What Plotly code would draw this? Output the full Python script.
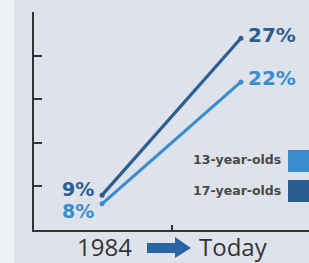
import plotly.graph_objects as go

periods = [0, 1]  # 1984 -> Today
period_labels = ["1984", "Today"]
series_names = ["13-year-olds", "17-year-olds"]
values_13 = [8, 22]
values_17 = [9, 27]
colors = {"13-year-olds": "#3a8dcc", "17-year-olds": "#2a5d92"}
ytick_vals = [10, 15, 20, 25, 30]

W, H = 309, 263
ml, mr, mt, mb = 34, 0, 12, 33

fig = go.Figure()
for name, vals in [("17-year-olds", values_17), ("13-year-olds", values_13)]:
    fig.add_trace(go.Scatter(x=periods, y=vals, mode="lines+markers",
                             line=dict(color=colors[name], width=3.2),
                             marker=dict(size=5, color=colors[name]),
                             name=name, showlegend=False))

ann = []
pf = "DejaVu Sans"
ann.append(dict(x=periods[1], y=values_17[1], text="<b>%d%%</b>" % values_17[1], xref="x", yref="y",
                xanchor="left", yanchor="middle", xshift=5, yshift=3, showarrow=False,
                font=dict(family=pf, size=20, color=colors["17-year-olds"])))
ann.append(dict(x=periods[1], y=values_13[1], text="<b>%d%%</b>" % values_13[1], xref="x", yref="y",
                xanchor="left", yanchor="middle", xshift=5, yshift=4, showarrow=False,
                font=dict(family=pf, size=20, color=colors["13-year-olds"])))
ann.append(dict(x=periods[0], y=values_17[0], text="<b>%d%%</b>" % values_17[0], xref="x", yref="y",
                xanchor="right", yanchor="middle", xshift=-6, yshift=6, showarrow=False,
                font=dict(family=pf, size=19, color=colors["17-year-olds"])))
ann.append(dict(x=periods[0], y=values_13[0], text="<b>%d%%</b>" % values_13[0], xref="x", yref="y",
                xanchor="right", yanchor="middle", xshift=-6, yshift=-7, showarrow=False,
                font=dict(family=pf, size=19, color=colors["13-year-olds"])))

def px(x):
    return (x - ml) / (W - ml - mr)

def py(y):
    return (H - mb - y) / (H - mt - mb)

# legend
for i, name in enumerate(series_names):
    yc = 160 + i * 30
    ann.append(dict(x=px(283), y=py(yc), xref="paper", yref="paper", text=name,
                    xanchor="right", yanchor="middle", showarrow=False,
                    font=dict(family="DejaVu Sans", size=12.5, weight=600, color="#484848")))

# bottom labels
ann.append(dict(x=px(134), y=py(246), xref="paper", yref="paper", text=period_labels[0],
                xanchor="right", yanchor="middle", showarrow=False,
                font=dict(family="Open Sans", size=24, color="#333333")))
ann.append(dict(x=px(197), y=py(246), xref="paper", yref="paper", text=period_labels[1],
                xanchor="left", yanchor="middle", showarrow=False,
                font=dict(family="Open Sans", size=24, color="#333333")))

shapes = []
# left lighter strip
shapes.append(dict(type="rect", xref="paper", yref="paper", x0=px(0), x1=px(14), y0=py(H), y1=py(0),
                   fillcolor="rgba(245,248,251,0.7)", line=dict(width=0), layer="below"))
# legend squares
for i, name in enumerate(series_names):
    yc = 161 + i * 30
    shapes.append(dict(type="rect", xref="paper", yref="paper", x0=px(288), x1=px(312),
                       y0=py(yc + 11), y1=py(yc - 11), fillcolor=colors[name], line=dict(width=0)))
# arrow
pts = [(147, 243), (175, 243), (175, 237), (191, 248), (175, 258), (175, 253), (147, 253)]
path = "M " + " L ".join("%f,%f" % (px(a), py(b)) for a, b in pts) + " Z"
shapes.append(dict(type="path", xref="paper", yref="paper", path=path,
                   fillcolor="#2a64a5", line=dict(width=0)))

fig.update_layout(
    width=W, height=H, margin=dict(l=ml, r=mr, t=mt, b=mb),
    paper_bgcolor="#dee3eb", plot_bgcolor="#dee3eb",
    annotations=ann, shapes=shapes, showlegend=False,
    xaxis=dict(range=[-0.49, 1.49], tickvals=[0.5], ticks="inside", ticklen=5, tickwidth=2,
               tickcolor="#333", showticklabels=False, showgrid=False, zeroline=False,
               showline=True, linecolor="#333", linewidth=2, fixedrange=True),
    yaxis=dict(range=[5, 30.02], tickvals=ytick_vals, ticks="inside", ticklen=8, tickwidth=2,
               tickcolor="#333", showticklabels=False, showgrid=False, zeroline=False,
               showline=True, linecolor="#333", linewidth=2, fixedrange=True),
)

fig.write_html("out.html", config={"displayModeBar": False},
               post_script="document.body.style.margin='0';document.body.style.overflow='hidden';")
